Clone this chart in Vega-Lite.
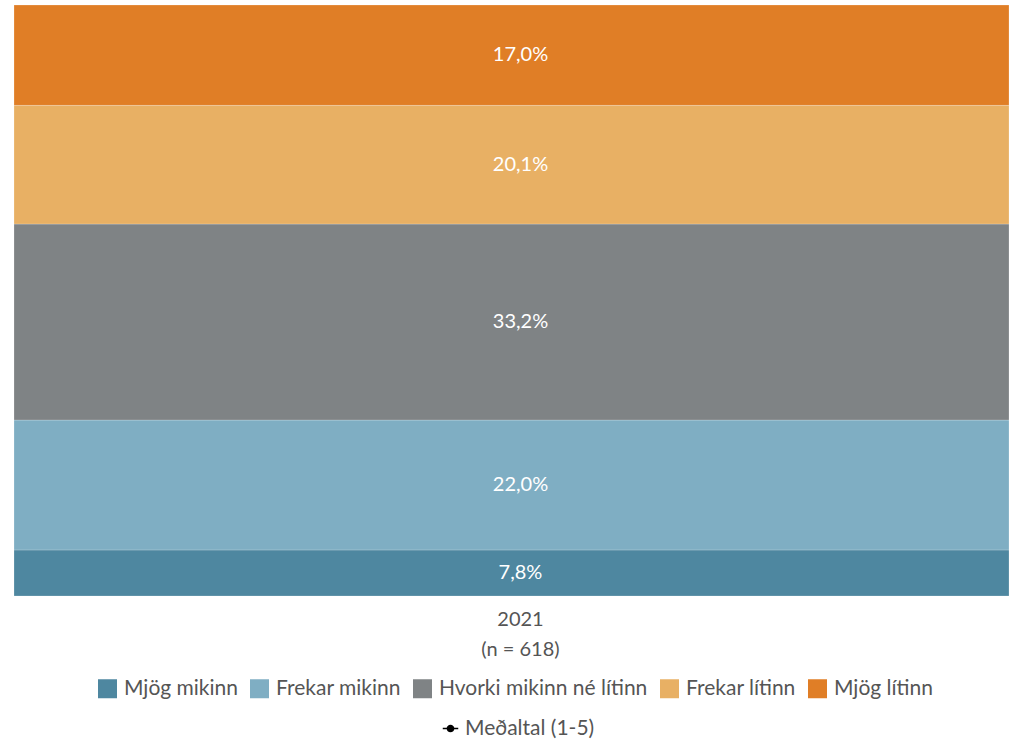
{
  "$schema": "https://vega.github.io/schema/vega-lite/v6.json",
  "width": 995,
  "height": 591,
  "autosize": {"type": "none"},
  "padding": {"left": 14, "top": 5, "right": 0, "bottom": 145},
  "background": "white",
  "config": {
    "font": "Lato",
    "view": {"stroke": null},
    "axis": {"labelFont": "Lato", "labelColor": "#555555"},
    "legend": {"labelFont": "Lato", "labelColor": "#555555"}
  },
  "datasets": {
    "bars": [
      {"year": "2021", "category": "Mjög mikinn", "rank": 1, "pct": 7.8, "label": "7,8%"},
      {"year": "2021", "category": "Frekar mikinn", "rank": 2, "pct": 22.0, "label": "22,0%"},
      {"year": "2021", "category": "Hvorki mikinn né lítinn", "rank": 3, "pct": 33.2, "label": "33,2%"},
      {"year": "2021", "category": "Frekar lítinn", "rank": 4, "pct": 20.1, "label": "20,1%"},
      {"year": "2021", "category": "Mjög lítinn", "rank": 5, "pct": 17.0, "label": "17,0%"}
    ],
    "mean": [
      {"year": "2021", "series": "Meðaltal (1-5)", "mean": 3.16}
    ]
  },
  "layer": [
    {
      "data": {"name": "bars"},
      "mark": {"type": "bar", "stroke": "white", "strokeWidth": 0.6, "strokeOpacity": 0.35},
      "encoding": {
        "x": {
          "field": "year", "type": "nominal",
          "scale": {"paddingInner": 0, "paddingOuter": 0},
          "axis": {
            "title": null, "domain": false, "ticks": false, "labelAngle": 0,
            "labelFontSize": 20, "labelPadding": 13, "labelLineHeight": 30,
            "labelOffset": 9,
            "labelExpr": "['2021', '(n = 618)']"
          }
        },
        "y": {
          "field": "pct", "type": "quantitative", "stack": "zero",
          "scale": {"domain": [0, 100.1], "nice": false},
          "axis": null
        },
        "order": {"field": "rank", "type": "quantitative", "sort": "ascending"},
        "color": {
          "field": "category", "type": "nominal",
          "scale": {
            "domain": ["Mjög mikinn", "Frekar mikinn", "Hvorki mikinn né lítinn", "Frekar lítinn", "Mjög lítinn"],
            "range": ["#4e87a0", "#7faec3", "#7f8385", "#e8b064", "#e07e26"]
          },
          "legend": {
            "title": null, "orient": "none", "direction": "horizontal",
            "legendX": 83, "legendY": 673, "padding": 0,
            "symbolType": "square", "symbolSize": 361, "symbolStrokeWidth": 0,
            "labelFontSize": 21, "labelOffset": 6, "columnPadding": 11,
            "labelLimit": 0, "symbolOpacity": 1
          }
        }
      }
    },
    {
      "data": {"name": "bars"},
      "mark": {"type": "text", "color": "white", "fontSize": 20, "baseline": "middle", "font": "Lato", "dx": 9},
      "encoding": {
        "x": {"field": "year", "type": "nominal"},
        "y": {"field": "pct", "type": "quantitative", "stack": "zero", "bandPosition": 0.5},
        "order": {"field": "rank", "type": "quantitative", "sort": "ascending"},
        "text": {"field": "label"}
      }
    },
    {
      "data": {"name": "mean"},
      "mark": {"type": "point", "filled": true, "color": "black", "opacity": 0},
      "encoding": {
        "x": {"field": "year", "type": "nominal"},
        "y": {"field": "mean", "type": "quantitative"},
        "shape": {
          "field": "series", "type": "nominal",
          "scale": {"range": ["M-1,-0.1H-0.4V0.1H-1ZM0.4,-0.1H1V0.1H0.4ZM-0.5,0A0.5,0.5,0,1,1,0.5,0A0.5,0.5,0,1,1,-0.5,0Z"]},
          "legend": {
            "title": null, "orient": "none", "legendX": 426, "legendY": 713, "padding": 0,
            "symbolSize": 240, "symbolOpacity": 1, "symbolFillColor": "black",
            "labelFontSize": 21, "labelOffset": 4, "labelLimit": 0
          }
        }
      }
    }
  ]
}
